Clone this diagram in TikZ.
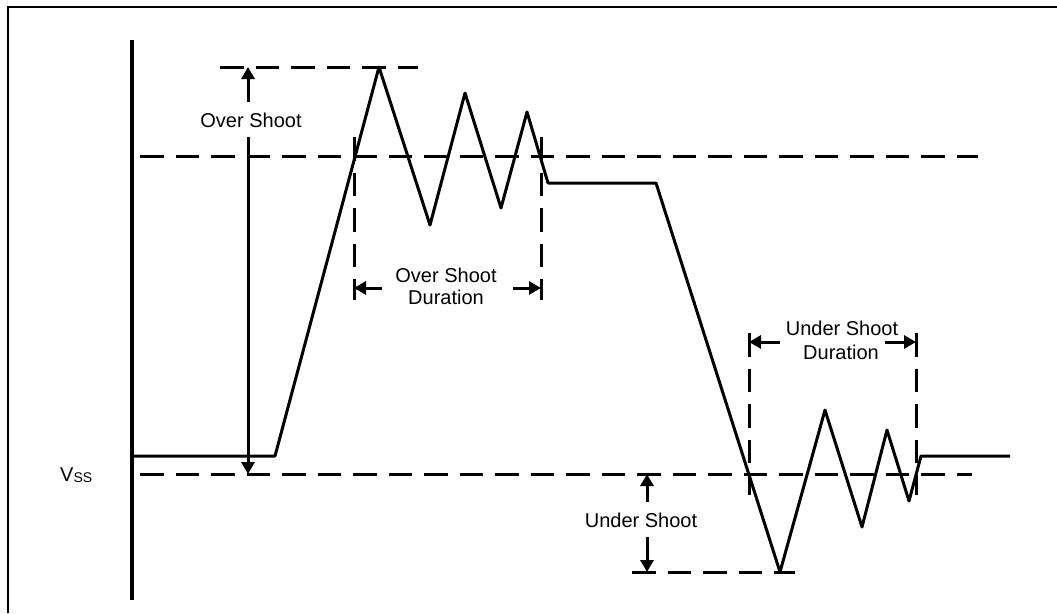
\documentclass[tikz,border=0pt]{standalone}
\usepackage{fontspec}
\setmainfont{Liberation Sans}
\usetikzlibrary{arrows.meta}
\begin{document}
\begin{tikzpicture}[x=1pt,y=-1pt,
  sig/.style={line width=3pt, line join=round},
  axisline/.style={line width=3.2pt},
  dsh/.style={line width=3pt, dash pattern=on 23.5pt off 12pt},
  dimarrow/.style={line width=3pt, -{Triangle[length=12pt,width=13pt]}},
  lbl/.style={font=\fontsize{20}{23}\selectfont, inner sep=0pt, anchor=base}]
\useasboundingbox (0,0) rectangle (1057,613);
\draw[line width=1.2pt] (8,613) -- (8,7) -- (1057,7);

% axis
\coordinate (axtop) at (132,40);
\coordinate (axbot) at (132,600);
\draw[axisline] (axtop) -- (axbot);

% signal
\coordinate (s0) at (132,456);
\coordinate (s1) at (275,456);
\coordinate (p1) at (379,67);
\coordinate (t1) at (430,225);
\coordinate (p2) at (465,93);
\coordinate (t2) at (501,208);
\coordinate (p3) at (527,112);
\coordinate (s2) at (548,183);
\coordinate (s3) at (656,183);
\coordinate (t3) at (780,572);
\coordinate (p4) at (825,410);
\coordinate (t4) at (862,527);
\coordinate (p5) at (887,430);
\coordinate (t5) at (909,501);
\coordinate (s4) at (921,456);
\coordinate (s5) at (1010,456);
\draw[sig] (s0) -- (s1) -- (p1) -- (t1) -- (p2) -- (t2) -- (p3) -- (s2) -- (s3)
  -- (t3) -- (p4) -- (t4) -- (p5) -- (t5) -- (s4) -- (s5);

% dashed reference lines
\coordinate (ova) at (220,67);  \coordinate (ovb) at (418,67);
\coordinate (hia) at (140,156); \coordinate (hib) at (978,156);
\coordinate (vsa) at (140,474); \coordinate (vsb) at (972,474);
\coordinate (una) at (632,572); \coordinate (unb) at (795,572);
\draw[dsh] (ova) -- (ovb);
\draw[dsh] (hia) -- (hib);
\draw[dsh] (vsa) -- (vsb);
\draw[dsh] (una) -- (unb);

% duration markers
\coordinate (oda) at (354,137); \coordinate (odb) at (354,300);
\coordinate (odc) at (541,137); \coordinate (odd) at (541,300);
\coordinate (uda) at (749,333); \coordinate (udb) at (749,495);
\coordinate (udc) at (916,333); \coordinate (udd) at (916,495);
\draw[dsh] (oda) -- (odb);
\draw[dsh] (odc) -- (odd);
\draw[dsh] (uda) -- (udb);
\draw[dsh] (udc) -- (udd);

% over shoot arrows
\coordinate (osA) at (248,102); \coordinate (osAt) at (248,67);
\coordinate (osB) at (248,137); \coordinate (osBt) at (248,474);
\draw[dimarrow] (osA) -- (osAt);
\draw[dimarrow] (osB) -- (osBt);
\node[lbl] (oslbl) at (251,127) {Over Shoot};

% over shoot duration arrows
\coordinate (odl) at (382,288); \coordinate (odlt) at (354,288);
\coordinate (odr) at (513,288); \coordinate (odrt) at (541,288);
\draw[dimarrow] (odl) -- (odlt);
\draw[dimarrow] (odr) -- (odrt);
\node[lbl] (odlbl1) at (446,282) {Over Shoot};
\node[lbl] (odlbl2) at (446,304) {Duration};

% under shoot duration arrows
\coordinate (udl) at (780,342); \coordinate (udlt) at (749,342);
\coordinate (udr) at (885,342); \coordinate (udrt) at (916,342);
\draw[dimarrow] (udl) -- (udlt);
\draw[dimarrow] (udr) -- (udrt);
\node[lbl] (udlbl1) at (842,335) {Under Shoot};
\node[lbl] (udlbl2) at (841,359) {Duration};

% under shoot arrows
\coordinate (usA) at (647,502); \coordinate (usAt) at (647,474);
\coordinate (usB) at (647,537); \coordinate (usBt) at (647,572);
\draw[dimarrow] (usA) -- (usAt);
\draw[dimarrow] (usB) -- (usBt);
\node[lbl] (uslbl) at (641,527) {Under Shoot};

% V_SS
\node[lbl, anchor=base west] (vss) at (60,481) {V\raisebox{-1pt}{\fontsize{14}{14}\selectfont SS}};
\end{tikzpicture}
\end{document}
